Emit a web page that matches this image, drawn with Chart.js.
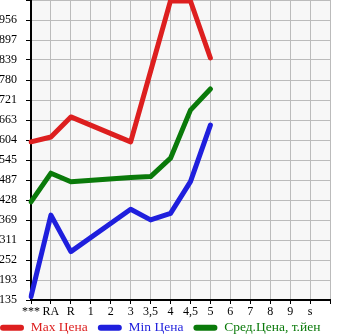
<!DOCTYPE html>
<html>
<head>
<meta charset="utf-8">
<script src="https://cdn.jsdelivr.net/npm/chart.js@4.4.1/dist/chart.umd.min.js"></script>
<style>
  html, body { margin: 0; padding: 0; background: #fff; }
  #view { width: 345px; height: 335px; overflow: hidden; position: relative; }
  #wrap { width: 355px; height: 335px; position: absolute; left: -10px; top: 0; }
</style>
</head>
<body>
<div id="view"><div id="wrap"><canvas id="priceChart"></canvas></div></div>
<script>
const categories = ["***", "RA", "R", "1", "2", "3", "3,5", "4", "4,5", "5", "6", "7", "8", "9", "s", ""];

const maxPrice = [599, 613, 672, null, null, 599, 806, 1013, 1012, 845, null, null, null, null, null, null];
const minPrice = [145, 384, 277, null, null, 401, 370, 389, 482, 648, null, null, null, null, null, null];
const avgPrice = [423, 507, 482, null, null, 494, 497, 551, 692, 754, null, null, null, null, null, null];

const yTicks = [135, 193, 252, 311, 369, 428, 487, 545, 604, 663, 721, 780, 839, 897, 956, 1015];
const yTickLabels = ["135", "193", "252", "311", "369", "428", "487", "545", "604", "663", "721", "780", "839", "897", "956", ""];

const seriesNames = ["Max Цена", "Min Цена", "Сред.Цена, т.йен"];
const seriesColors = ["#dd1f1f", "#1f1fdd", "#0a7a0a"];

const serif = "'Liberation Serif', 'DejaVu Serif', serif";

// light grey plot background + compact legend height
const plotBg = {
  id: "plotBg",
  beforeLayout(chart) {
    const lg = chart.legend;
    if (lg && !lg._patched) {
      const origFit = lg.fit;
      lg.fit = function () {
        origFit.call(this);
        this.height = 24;
      };
      lg._patched = true;
    }
  },
  beforeDraw(chart) {
    const a = chart.chartArea;
    const c = chart.ctx;
    c.save();
    c.fillStyle = "#f7f7f7";
    c.fillRect(a.left, a.top, a.right - a.left, a.bottom - a.top);
    c.restore();
  }
};

function makeSet(i, data) {
  return {
    label: seriesNames[i],
    data: data,
    borderColor: seriesColors[i],
    backgroundColor: seriesColors[i],
    borderWidth: 5,
    pointRadius: 0,
    spanGaps: true,
    tension: 0,
    borderJoinStyle: "round",
    borderCapStyle: "round"
  };
}

const ctx = document.getElementById("priceChart");

new Chart(ctx, {
  type: "line",
  data: {
    labels: categories,
    datasets: [makeSet(0, maxPrice), makeSet(1, minPrice), makeSet(2, avgPrice)]
  },
  options: {
    responsive: true,
    maintainAspectRatio: false,
    animation: false,
    layout: { padding: 0 },
    plugins: {
      tooltip: { enabled: false },
      legend: {
        position: "bottom",
        align: "start",
        labels: {
          boxWidth: 24,
          boxHeight: 6,
          padding: 10,
          font: { family: serif, size: 13.5 },
          generateLabels(chart) {
            return chart.data.datasets.map((ds, i) => ({
              text: ds.label,
              fillStyle: ds.borderColor,
              strokeStyle: ds.borderColor,
              fontColor: ds.borderColor,
              lineWidth: 0,
              borderRadius: 3,
              datasetIndex: i
            }));
          }
        }
      }
    },
    scales: {
      x: {
        offset: false,
        afterFit(scale) {
          scale.height = 11;
          scale.paddingRight = 15;
          scale._computeLabelArea = () => undefined;
        },
        grid: {
          color: "#bbbbbb",
          tickColor: "#000",
          tickLength: 4,
          offset: false
        },
        border: { color: "#000", width: 2 },
        ticks: {
          color: "#000",
          font: { family: serif, size: 12 },
          padding: 1,
          maxRotation: 0,
          autoSkip: false
        }
      },
      y: {
        min: 135,
        max: 1015,
        afterBuildTicks(scale) {
          scale.ticks = yTicks.map(v => ({ value: v }));
        },
        afterFit(scale) {
          scale.width = 41;
          scale.paddingTop = 0;
          scale.paddingBottom = 0;
        },
        grid: {
          color: "#bbbbbb",
          tickColor: "#000",
          tickLength: 5
        },
        border: { color: "#000", width: 2 },
        ticks: {
          color: "#000",
          font: { family: serif, size: 12 },
          padding: 9,
          autoSkip: false,
          callback: (v, i) => yTickLabels[i]
        }
      }
    }
  },
  plugins: [plotBg]
});
</script>
</body>
</html>
